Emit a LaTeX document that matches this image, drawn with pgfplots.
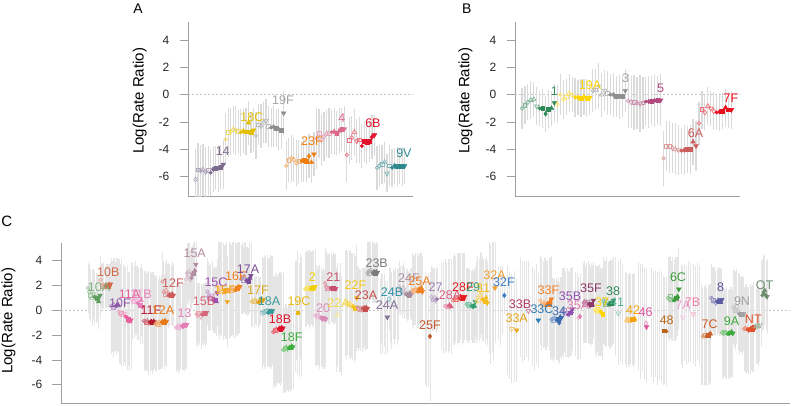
\documentclass[border=0pt]{standalone}
\usepackage{fontspec}
\setmainfont{Liberation Sans}
\usepackage{pgfplots}
\usepackage{pgfplotstable}
\pgfplotsset{compat=1.18}

\pgfdeclareplotmark{tdown}{%
  \pgfpathmoveto{\pgfqpoint{0pt}{-\pgfplotmarksize}}%
  \pgfpathlineto{\pgfqpoint{.866\pgfplotmarksize}{.5\pgfplotmarksize}}%
  \pgfpathlineto{\pgfqpoint{-.866\pgfplotmarksize}{.5\pgfplotmarksize}}%
  \pgfpathclose\pgfusepathqstroke}
\pgfdeclareplotmark{tdown*}{%
  \pgfpathmoveto{\pgfqpoint{0pt}{-\pgfplotmarksize}}%
  \pgfpathlineto{\pgfqpoint{.866\pgfplotmarksize}{.5\pgfplotmarksize}}%
  \pgfpathlineto{\pgfqpoint{-.866\pgfplotmarksize}{.5\pgfplotmarksize}}%
  \pgfpathclose\pgfusepathqfillstroke}

\definecolor{barc}{HTML}{DADADA}
\definecolor{barcC}{HTML}{E5E5E5}
% panel A
\definecolor{c14}{HTML}{7D6B8D}\definecolor{c18C}{HTML}{E3BF00}\definecolor{c19F}{HTML}{8E8E8E}
\definecolor{c23F}{HTML}{F07D0C}\definecolor{c4}{HTML}{DE6A8B}\definecolor{c6B}{HTML}{E3122B}
\definecolor{c9V}{HTML}{2F8A90}
% panel B
\definecolor{c1}{HTML}{2E8B57}\definecolor{c19A}{HTML}{FFD500}\definecolor{c3}{HTML}{8E8E8E}
\definecolor{c5}{HTML}{B04A7E}\definecolor{c6A}{HTML}{CC5B5B}\definecolor{c7F}{HTML}{E8101F}
% panel C
\definecolor{c10A}{HTML}{5E9E5E}\definecolor{c10B}{HTML}{D2694B}\definecolor{c10F}{HTML}{8E5AA8}
\definecolor{c11A}{HTML}{E8609A}\definecolor{c11B}{HTML}{E880B8}\definecolor{c11F}{HTML}{B5172D}
\definecolor{c12A}{HTML}{E87A1A}\definecolor{c12F}{HTML}{CD5C5C}\definecolor{c13}{HTML}{E47FB8}
\definecolor{c15A}{HTML}{B48CA0}\definecolor{c15B}{HTML}{D8667A}\definecolor{c15C}{HTML}{9E4FB0}
\definecolor{c15F}{HTML}{F5A623}\definecolor{c16F}{HTML}{F0801E}\definecolor{c17A}{HTML}{7D4E96}
\definecolor{c17F}{HTML}{D9A520}\definecolor{c18A}{HTML}{3A9A9A}\definecolor{c18B}{HTML}{E0142C}
\definecolor{c18F}{HTML}{3DAE3D}\definecolor{c19C}{HTML}{E8B810}\definecolor{c2}{HTML}{F2D000}
\definecolor{c20}{HTML}{D98CB8}\definecolor{c21}{HTML}{C8506E}\definecolor{c22A}{HTML}{F2D84A}
\definecolor{c22F}{HTML}{F5C518}\definecolor{c23A}{HTML}{C44E4E}\definecolor{c23B}{HTML}{7A7A7A}
\definecolor{c24A}{HTML}{806E96}\definecolor{c24B}{HTML}{3191A8}\definecolor{c24F}{HTML}{A88E9E}
\definecolor{c25A}{HTML}{F07F1F}\definecolor{c25F}{HTML}{C0562D}\definecolor{c27}{HTML}{9B7FB0}
\definecolor{c28A}{HTML}{D95F80}\definecolor{c28F}{HTML}{E41A1C}\definecolor{c29}{HTML}{2E9E6E}
\definecolor{c31}{HTML}{F5BC1A}\definecolor{c32A}{HTML}{F29E2E}\definecolor{c32F}{HTML}{3A7EC6}
\definecolor{c33A}{HTML}{E8A317}\definecolor{c33B}{HTML}{B03A5E}\definecolor{c33C}{HTML}{2E7DB8}
\definecolor{c33F}{HTML}{F57E1F}\definecolor{c34}{HTML}{3C6CB0}\definecolor{c35A}{HTML}{E07CB0}
\definecolor{c35B}{HTML}{9050B0}\definecolor{c35F}{HTML}{8C3A66}\definecolor{c37}{HTML}{FFD500}
\definecolor{c38}{HTML}{2E8B57}\definecolor{c41}{HTML}{4FAF8F}\definecolor{c42}{HTML}{F5A20A}
\definecolor{c46}{HTML}{E0559E}\definecolor{c48}{HTML}{B8651C}\definecolor{c6C}{HTML}{3A9A3A}
\definecolor{c7A}{HTML}{EE9CCB}\definecolor{c7B}{HTML}{F07CA8}\definecolor{c7C}{HTML}{C85F2A}
\definecolor{c8}{HTML}{5A5AA0}\definecolor{c9A}{HTML}{3BAA3B}\definecolor{c9N}{HTML}{A0A0A0}
\definecolor{cNT}{HTML}{E0532D}\definecolor{cOT}{HTML}{6E8E6E}

\pgfplotsset{
  panel/.style={scale only axis, axis x line*=bottom, axis y line*=left,
    xtick=\empty, ytick={-6,-4,-2,0,2,4}, tick align=outside, major tick length=8.5pt,
    ytick style={draw=gray!75, line width=0.8pt},
    axis line style={draw=gray!75, line width=0.9pt},
    yticklabel style={font=\fontsize{12}{12}\selectfont, text=black!85, inner sep=0pt, xshift=-10pt},
    /pgf/number format/assume math mode=true,
    clip mode=individual},
  grp/.style={only marks, scatter, scatter src=explicit symbolic, color=#1, mark=*, forget plot,
    scatter/classes={
      o={mark=o, mark size=1.7pt, draw=#1!60!white, fill=white, line width=0.7pt},
      d={mark=diamond, mark size=2.4pt, draw=#1!60!white, fill=white, line width=0.7pt},
      s={mark=square, mark size=1.9pt, draw=#1!60!white, fill=white, line width=0.7pt},
      t={mark=triangle, mark size=2.7pt, draw=#1!60!white, fill=white, line width=0.7pt},
      v={mark=tdown, mark size=2.7pt, draw=#1!60!white, fill=white, line width=0.7pt},
      O={mark=*, mark size=1.7pt, draw=#1, fill=#1, line width=0.4pt},
      D={mark=diamond*, mark size=2.4pt, draw=#1, fill=#1, line width=0.4pt},
      S={mark=square*, mark size=1.9pt, draw=#1, fill=#1, line width=0.4pt},
      T={mark=triangle*, mark size=2.7pt, draw=#1, fill=#1, line width=0.4pt},
      V={mark=tdown*, mark size=2.7pt, draw=#1, fill=#1, line width=0.4pt},
      n={mark=*, mark size=0.1pt, opacity=0}}},
  bars/.style 2 args={draw=none, no markers, forget plot,
    error bars/y dir=both, error bars/y explicit, error bars/error mark=none,
    error bars/error bar style={draw=#1, line width=#2, solid}},
}
\newcommand\lbl{\fontsize{12.5}{13}\selectfont}
\newcommand\lb[4]{\node[font=\lbl, text=#1, inner sep=0pt] at (axis cs:#2,#3) {#4};}
\newcommand\gA[2]{\addplot[grp=#2, restrict expr to domain={\thisrow{g}}{#1}] table[x expr=12*\thisrow{g}+\thisrow{k}, y=y, meta=c] {\tabA};}
\newcommand\gB[2]{\addplot[grp=#2, restrict expr to domain={\thisrow{g}}{#1}] table[x expr=12*\thisrow{g}+\thisrow{k}, y=y, meta=c] {\tabB};}
\newcommand\gC[2]{\addplot[grp=#2, restrict expr to domain={\thisrow{g}}{#1}] table[x=x, y=y, meta=c] {\tabC};}

\begin{document}
\pgfplotstableread{
g k y e c
0 0 -6.2 2.2 d
0 1 -5.5 2.0 s
0 2 -5.55 1.9 d
0 3 -5.5 1.9 t
0 4 -5.65 1.8 v
0 5 -5.55 1.8 s
0 6 -5.7 1.7 O
0 7 -5.45 1.7 D
0 8 -5.35 1.6 S
0 9 -5.4 1.7 T
0 10 -5.3 1.6 S
0 11 -5.1 1.8 V
1 0 -3.27 1.9 o
1 1 -2.75 1.8 s
1 2 -2.7 1.7 d
1 3 -2.55 1.7 t
1 4 -2.6 1.8 v
1 5 -2.7 1.6 s
1 6 -2.75 1.7 O
1 7 -2.65 1.6 D
1 8 -2.7 1.7 S
1 9 -2.05 1.6 T
1 10 -2.75 1.5 S
1 11 -2.6 1.6 V
2 0 -3.0 1.7 o
2 1 -2.2 1.5 s
2 2 -2.3 1.6 d
2 3 -2.05 1.5 t
2 4 -1.9 1.6 v
2 5 -2.3 1.5 s
2 6 -2.4 1.4 O
2 7 -2.35 1.5 D
2 8 -2.45 1.4 S
2 9 -2.55 1.5 T
2 10 -2.6 1.4 S
2 11 -1.35 1.6 V
3 0 -5.2 1.8 o
3 1 -4.8 1.6 s
3 2 -4.65 1.7 d
3 3 -4.75 1.6 t
3 4 -5.0 1.7 v
3 5 -4.9 1.6 s
3 6 -4.85 1.5 O
3 7 -4.8 1.6 S
3 8 -4.85 1.5 S
3 9 -4.5 1.6 D
3 10 -4.95 1.5 T
3 11 -4.35 1.6 V
4 0 -3.2 2.2 o
4 1 -2.85 1.8 s
4 2 -3.3 1.9 d
4 3 -3.05 1.8 v
4 4 -2.85 1.7 t
4 5 -2.8 1.8 s
4 6 -2.75 1.6 O
4 7 -2.7 1.7 D
4 8 -2.8 1.6 S
4 9 -2.65 1.7 T
4 10 -2.55 1.6 S
4 11 -2.5 1.7 V
5 0 -4.4 2.0 o
5 1 -3.35 1.7 s
5 2 -3.15 1.6 d
5 3 -2.75 1.7 t
5 4 -3.4 1.6 v
5 5 -3.3 1.7 s
5 6 -3.75 1.6 O
5 7 -3.4 1.5 S
5 8 -3.45 1.6 S
5 9 -3.4 1.5 S
5 10 -3.1 1.6 D
5 11 -2.95 1.5 V
6 0 -5.35 1.6 o
6 1 -5.2 1.5 d
6 2 -5.1 1.4 s
6 3 -4.95 1.5 t
6 4 -5.75 1.4 v
6 5 -5.2 1.5 s
6 6 -5.35 1.4 O
6 7 -5.2 1.3 D
6 8 -5.25 1.4 S
6 9 -5.2 1.3 S
6 10 -5.25 1.4 S
6 11 -5.2 1.3 V
}\tabA
\pgfplotstableread{
g k y e c
0 0 -1.0 1.5 o
0 1 -0.75 1.4 s
0 2 -0.55 1.3 d
0 3 -0.4 1.4 t
0 4 -0.35 1.3 t
0 5 -0.85 1.4 v
0 6 -1.0 1.3 O
0 7 -1.0 1.4 S
0 8 -1.4 1.3 D
0 9 -1.05 1.4 S
0 10 -1.0 1.3 T
0 11 -0.6 1.4 V
1 0 -0.7 1.4 d
1 1 0.0 1.5 o
1 2 -0.35 1.4 d
1 3 -0.15 1.3 s
1 4 0.1 1.4 t
1 5 0.0 1.3 v
1 6 -0.2 1.4 O
1 7 -0.2 1.3 D
1 8 -0.25 1.4 S
1 9 -0.15 1.3 T
1 10 -0.25 1.4 S
1 11 -0.2 1.3 V
2 0 0.3 1.6 d
2 1 0.35 1.5 s
2 2 0.65 1.7 o
2 3 0.0 1.6 t
2 4 0.3 1.5 v
2 5 0.1 1.6 s
2 6 0.0 1.5 O
2 7 0.0 1.6 D
2 8 -0.1 1.5 S
2 9 -0.15 1.6 T
2 10 -0.1 1.5 S
2 11 0.3 1.6 V
3 0 -0.45 2.0 o
3 1 -0.55 1.9 d
3 2 -0.55 2.0 s
3 3 -0.6 1.9 t
3 4 -0.65 2.1 v
3 5 -0.6 1.9 s
3 6 -0.5 1.8 O
3 7 -0.5 1.9 D
3 8 -0.45 1.8 S
3 9 -0.45 1.9 T
3 10 -0.4 1.8 S
3 11 -0.4 1.9 V
4 0 -4.65 2.0 o
4 1 -3.75 1.8 s
4 2 -3.8 1.9 s
4 3 -3.9 1.8 d
4 4 -4.0 1.9 t
4 5 -4.05 1.8 v
4 6 -4.1 1.7 O
4 7 -4.05 1.8 D
4 8 -4.0 1.7 S
4 9 -4.0 1.8 S
4 10 -3.45 1.7 T
4 11 -3.75 1.8 V
5 0 -2.1 1.6 o
5 1 -1.1 1.4 s
5 2 -1.3 1.3 d
5 3 -0.85 1.4 t
5 4 -1.0 1.3 v
5 5 -1.2 1.4 d
5 6 -1.3 1.3 O
5 7 -1.25 1.4 D
5 8 -1.2 1.3 S
5 9 -0.95 1.4 T
5 10 -1.1 1.3 S
5 11 -1.1 1.4 V
}\tabB
\pgfplotstableread{
g x y e c
0 88 1.8 2.0 o
0 89.3 1.5 2.2 d
0 90.6 1.2 2.1 s
0 92 1.0 2.3 t
0 93.3 1.3 2.0 v
0 94.6 1.1 2.1 O
0 96 1.0 2.0 D
0 97.3 1.0 1.9 S
0 98.6 0.7 2.2 T
0 100 1.2 1.9 V
1 100.5 2.45 1.9 o
1 101.6 2.0 1.8 d
1 102.7 1.9 1.8 s
1 103.8 2.0 1.9 t
1 104.9 1.9 1.7 v
1 106 1.95 1.8 O
1 107.1 2.0 1.7 D
1 108.2 1.9 1.8 S
1 109.3 2.05 1.7 T
1 110.4 2.1 1.8 V
2 111 0.35 3.9 o
2 112 0.3 3.7 d
2 113 0.25 4.0 s
2 114 0.4 3.8 t
2 115 0.3 3.6 v
2 116 0.35 3.9 O
2 117 0.4 3.7 D
2 118 0.45 3.8 T
3 119 -0.1 4.2 o
3 120.3 -0.3 4.0 d
3 121.6 -0.2 4.3 s
3 123 -0.4 4.1 t
3 124.3 -0.3 3.9 v
3 125.6 -0.5 4.0 O
3 127 -0.6 4.2 D
3 128.3 -0.7 3.8 S
3 129.6 -0.9 4.0 T
3 131 -0.8 3.9 V
4 131.5 0.9 3.0 o
4 132.7 0.7 3.1 d
4 133.9 0.7 2.9 s
4 135.1 1.0 3.0 t
4 136.3 0.8 2.8 v
4 137.5 0.6 3.0 O
4 138.7 0.5 2.9 D
4 139.9 0.4 3.1 S
4 141.1 0.8 2.9 T
4 142.3 0.3 3.0 V
5 144 -0.85 4.0 o
5 145.2 -0.9 4.1 d
5 146.4 -0.95 3.9 s
5 147.6 -0.9 4.0 t
5 148.8 -1.0 4.2 v
5 150 -0.95 4.0 O
5 151.2 -0.9 3.9 D
5 152.4 -1.0 4.1 S
5 153.6 -0.9 4.0 T
5 154.8 -0.95 3.8 V
6 155.5 -1.1 3.8 o
6 156.7 -1.05 3.9 d
6 157.9 -1.15 3.7 s
6 159.1 -1.0 3.8 t
6 160.3 -1.1 3.6 v
6 161.5 -0.95 3.8 O
6 162.7 -0.9 3.7 D
6 163.9 -0.95 3.9 S
6 165.1 -0.85 3.6 T
6 166.3 -0.9 3.7 V
7 162.5 2.3 2.4 o
7 163.8 1.5 2.5 d
7 165 1.3 2.6 s
7 166.2 1.6 2.5 t
7 167.4 1.3 2.4 v
7 168.6 1.2 2.6 O
7 169.8 1.25 2.5 D
7 171 1.2 2.4 S
7 172.2 1.3 2.6 T
7 173.4 1.2 2.5 V
8 176 -1.4 3.6 o
8 177.2 -1.35 3.5 d
8 178.4 -1.4 3.7 s
8 179.6 -1.3 3.6 t
8 180.8 -1.35 3.4 v
8 182 -1.25 3.6 O
8 183.2 -1.3 3.5 D
8 184.4 -1.2 3.7 S
8 185.6 -1.2 3.5 T
8 186.8 -1.15 3.6 V
9 186 2.5 2.5 o
9 187.1 3.0 2.4 d
9 188.2 2.9 2.5 s
9 189.3 3.1 2.3 t
9 190.4 2.5 2.4 v
9 191.5 2.6 2.5 O
9 192.6 2.9 2.3 D
9 193.7 3.0 2.4 S
9 194.8 3.2 2.3 T
9 195.9 3.7 2.2 V
10 196.5 -0.3 2.5 o
10 197.6 -0.4 2.6 d
10 198.7 -0.2 2.4 s
10 199.8 -0.3 2.5 t
10 200.9 -0.5 2.6 v
10 202 -0.35 2.4 O
10 203.1 -0.3 2.5 D
10 204.2 -0.25 2.4 S
10 205.3 -0.3 2.6 T
10 206.4 -0.2 2.5 V
11 207.5 1.5 2.7 o
11 208.6 1.1 2.8 d
11 209.7 1.0 2.6 s
11 210.8 1.0 2.7 t
11 211.9 1.2 2.8 v
11 213 0.8 2.6 O
11 214.1 0.9 2.7 D
11 215.2 0.8 2.6 S
11 216.3 0.7 2.8 T
11 217.4 1.4 2.7 V
12 218.5 1.7 3.8 o
12 219.6 1.6 3.9 d
12 220.7 1.8 3.7 s
12 221.8 1.7 3.8 t
12 222.9 1.5 3.9 v
12 224 1.6 3.7 O
12 225.1 1.5 3.8 D
12 226.2 1.6 3.9 S
12 227.3 0.7 3.7 V
13 229 1.6 3.8 o
13 230.2 1.7 3.9 d
13 231.4 1.6 3.7 s
13 232.6 1.8 3.8 t
13 233.8 1.7 3.9 v
13 235 1.6 3.8 O
13 236.2 1.7 3.7 D
13 237.4 1.8 3.9 S
13 238.6 1.9 3.8 T
13 239.8 1.9 3.7 V
14 241 2.5 2.8 o
14 242.1 2.6 2.9 d
14 243.2 2.4 2.7 s
14 244.3 2.7 2.8 t
14 245.4 2.5 2.9 v
14 246.5 2.4 2.7 O
14 247.6 2.3 2.8 D
14 248.7 2.35 2.7 S
14 249.8 2.6 2.8 T
14 250.9 2.8 2.9 V
15 251.5 0.7 2.1 o
15 252.8 0.75 2.0 d
15 254.1 0.7 2.1 s
15 255.4 0.8 1.9 t
15 256.7 0.75 2.0 v
15 258 0.65 2.1 O
15 259.3 0.7 2.0 D
15 260.6 0.8 1.9 S
15 261.9 0.85 2.0 T
15 263.2 0.85 2.1 V
16 262.5 -0.2 4.5 v
16 263.6 -0.1 4.3 o
16 264.7 -0.15 4.6 d
16 265.8 -0.1 4.4 s
16 266.9 -0.05 4.5 t
16 268 -0.2 4.3 O
16 269.1 -0.15 4.4 D
16 270.2 -0.1 4.6 S
16 271.3 -0.1 4.5 T
16 272.4 -0.05 4.4 V
17 273 -1.75 4.5 o
17 274.1 -1.7 4.4 d
17 275.2 -1.6 4.6 s
17 276.3 -1.55 4.5 t
17 277.4 -1.6 4.3 v
17 278.5 -1.5 4.4 O
17 279.6 -1.45 4.5 D
17 280.7 -1.5 4.6 S
17 281.8 -1.4 4.4 T
17 282.9 -1.45 4.5 V
18 283 -3.2 3.5 o
18 284.1 -3.15 3.4 d
18 285.2 -3.1 3.6 s
18 286.3 -3.0 3.5 t
18 287.4 -3.1 3.3 v
18 288.5 -3.05 3.5 O
18 289.6 -3.0 3.4 D
18 290.7 -2.95 3.6 S
18 291.8 -2.9 3.5 T
18 292.9 -2.95 3.4 V
19 295 -0.5 4.5 n
19 296.3 0.0 4.0 n
19 297.6 -0.2 5.0 S
19 299 -0.8 4.6 n
19 300.3 0.3 4.2 n
19 301.6 -0.5 4.8 n
20 305 1.7 3.0 o
20 306.1 1.75 3.1 d
20 307.2 1.8 2.9 s
20 308.3 1.85 3.0 t
20 309.4 1.7 3.2 v
20 310.5 1.75 3.0 O
20 311.6 1.8 2.9 D
20 312.7 1.75 3.1 S
20 313.8 1.8 3.0 T
20 314.9 1.9 3.0 V
21 315 -0.4 4.0 o
21 316.2 -0.45 4.1 d
21 317.4 -0.5 3.9 s
21 318.6 -0.4 4.0 t
21 319.8 -0.55 4.2 v
21 321 -0.6 4.0 O
21 322.2 -0.7 3.9 D
21 323.4 -0.65 4.1 S
21 324.6 -0.75 4.0 T
21 325.8 -0.7 3.9 V
22 325 2.2 2.8 o
22 326.2 1.9 2.9 d
22 327.4 1.8 2.7 s
22 328.6 1.7 2.8 t
22 329.8 1.75 2.9 v
22 331 1.8 2.8 O
22 332.2 1.75 2.7 D
22 333.4 1.8 2.9 S
22 334.6 1.7 2.8 T
22 335.8 1.75 2.8 V
23 336.5 -0.8 4.2 n
23 337.7 -0.4 4.2 t
23 339 -1.0 4.0 n
23 340.3 -0.6 4.4 n
23 341.6 -1.2 4.0 n
24 345 0.6 4.3 n
24 346.3 0.5 4.4 o
24 347.6 0.6 4.2 d
24 348.9 0.45 4.3 s
24 350.2 0.5 4.4 t
24 351.5 0.4 4.2 v
24 352.8 0.3 4.3 O
24 354.1 0.25 4.4 D
24 355.4 0.2 4.2 S
24 356.7 1.0 4.3 V
25 357.5 0.25 3.3 o
25 358.6 0.1 3.4 d
25 359.7 0.15 3.2 s
25 360.8 0.0 3.3 t
25 361.9 0.05 3.4 v
25 363 0.15 3.3 O
25 364.1 0.2 3.2 D
25 365.2 0.1 3.4 S
25 366.3 0.2 3.3 T
25 367.4 0.15 3.3 V
26 367.5 3.0 2.5 o
26 368.6 3.1 2.4 d
26 369.7 3.0 2.5 s
26 370.8 3.2 2.4 t
26 371.9 3.1 2.5 v
26 373 3.0 2.4 O
26 374.1 3.1 2.5 D
26 375.2 2.95 2.4 S
26 376.3 3.1 2.5 T
26 377.4 3.05 2.4 V
27 380 -0.5 3.0 n
27 381.3 0.2 2.8 n
27 382.6 -0.3 3.2 n
27 383.9 0.0 2.9 n
27 385.2 -0.6 3.0 n
27 387.3 -0.56 2.9 V
28 389 0.9 2.5 d
28 390.3 0.4 3.0 n
28 391.6 0.0 3.1 n
28 393 0.5 2.8 n
28 394.3 0.2 3.0 n
28 395.6 0.6 2.9 n
28 397 0.3 3.0 n
28 398.3 0.5 2.9 n
29 399.5 1.9 2.1 o
29 400.8 1.6 2.0 d
29 402.1 1.5 2.1 s
29 403.4 1.8 2.0 t
29 404.7 1.4 2.1 v
29 406 1.3 2.0 O
29 407.3 1.25 2.1 D
29 408.6 1.2 2.0 S
29 409.9 1.4 2.0 T
29 411.2 1.3 2.1 V
30 412.5 1.6 2.9 o
30 413.6 1.5 3.0 d
30 414.7 1.6 2.8 s
30 415.8 1.7 2.9 t
30 416.9 1.6 3.0 v
30 418 1.5 2.9 O
30 419.1 1.7 2.8 D
30 420.2 1.6 3.0 S
30 421.3 1.8 2.9 T
30 422.4 1.5 2.9 V
31 425 -1.5 4.5 n
31 426.5 -2.0 4.2 n
31 428 -1.6 4.6 n
31 430 -2.1 5.2 D
32 431.5 1.1 2.5 o
32 432.6 0.9 2.6 d
32 433.7 0.85 2.5 s
32 434.8 1.0 2.4 t
32 435.9 0.8 2.6 v
32 437 0.9 2.5 O
33 441 0.3 3.5 n
33 443 0.2 3.7 n
33 445 0.35 3.8 o
33 446.5 0.3 3.6 d
33 448 0.35 3.8 s
33 449.5 0.4 3.7 T
33 451 0.3 3.8 T
34 453 0.8 3.6 o
34 454.3 0.9 3.7 d
34 455.6 0.85 3.5 s
34 456.9 1.0 3.6 t
34 458.2 0.9 3.7 v
34 459.5 1.0 3.6 O
34 460.8 1.1 3.5 D
34 462.1 0.95 3.7 S
34 463.4 1.0 3.6 T
34 464.7 1.1 3.5 V
35 466.5 0.5 2.9 o
35 467.6 0.4 3.0 d
35 468.7 0.45 2.9 s
35 469.8 0.35 3.0 v
35 470.9 0.4 2.8 t
35 472 0.35 3.0 O
35 473.1 0.3 2.9 D
35 474.2 0.35 3.0 T
35 475.3 0.7 2.9 V
36 476.5 0.7 3.3 o
36 477.7 1.0 3.4 d
36 478.9 0.8 3.3 s
36 480.1 1.2 3.4 t
36 481.3 1.4 3.3 v
36 482.5 0.9 3.4 O
36 483.7 0.8 3.3 D
36 484.9 0.7 3.4 S
36 486.1 1.0 3.3 T
36 487.3 0.6 3.4 V
37 489 1.0 4.5 n
37 490.5 0.5 4.8 n
37 492 1.2 4.6 n
37 493.5 0.8 4.9 n
37 495 1.8 4.4 V
38 498 0.6 3.0 n
38 500 0.4 3.2 n
38 502 0.8 2.8 n
38 504.3 1.2 1.5 D
39 507 -0.8 4.4 n
39 509 -1.2 4.3 n
39 511.7 -1.5 4.4 v
39 514 -1.3 4.5 n
39 516.7 -1.6 4.2 V
40 520 0.2 4.0 n
40 522 -0.1 4.1 n
40 524 0.0 4.0 n
40 526 0.1 3.9 n
40 528.5 -0.05 4.0 v
41 532 -0.5 4.0 n
41 534 -0.8 4.1 n
41 536 -0.3 4.0 n
41 538.3 -0.8 3.8 V
42 540.5 0.8 3.6 o
42 541.7 0.5 3.7 d
42 542.9 0.45 3.5 s
42 544.1 0.6 3.6 t
42 545.3 0.5 3.7 v
42 546.5 0.4 3.6 O
42 547.7 0.55 3.5 D
42 548.9 0.5 3.7 S
42 550.1 0.7 3.6 T
42 551.3 0.9 3.5 V
43 550 -0.7 3.3 n
43 551.5 -0.75 3.2 o
43 552.6 -0.7 3.3 d
43 553.7 -0.8 3.4 s
43 554.8 -0.65 3.2 t
43 555.9 -0.7 3.3 v
43 557 -0.8 3.2 O
43 558.1 -0.75 3.4 S
43 559.2 -1.0 3.3 D
43 560.3 -0.55 3.2 T
43 561.4 -0.6 3.3 V
44 575 -0.3 3.4 n
44 577 -0.5 3.5 n
44 578.5 -0.6 3.3 o
44 580 -0.5 3.4 D
45 562.5 -0.1 3.5 o
45 563.6 -0.2 3.6 d
45 564.7 0.0 3.4 s
45 565.8 -0.3 3.5 t
45 566.9 -0.2 3.6 v
45 568 -0.35 3.5 O
45 569.1 -0.3 3.4 D
45 570.2 -0.2 3.6 S
45 571.3 -0.1 3.5 T
45 572.4 0.1 3.4 V
46 583.5 0.6 3.2 o
46 584.6 0.7 3.3 d
46 585.7 0.5 3.1 s
46 586.8 0.6 3.2 t
46 587.9 0.7 3.3 v
46 589 0.5 3.2 O
46 590.1 0.4 3.1 D
46 591.2 0.5 3.3 S
46 592.3 0.45 3.2 T
46 593.4 0.8 3.1 V
47 595 0.05 3.6 o
47 596.1 -0.1 3.7 d
47 597.2 0.1 3.5 s
47 598.3 -0.05 3.6 t
47 599.4 0.0 3.7 v
47 600.5 -0.1 3.6 O
47 601.6 -0.2 3.5 D
47 602.7 -0.3 3.7 S
48 603.5 0.8 3.5 o
48 604.6 0.6 3.4 d
48 605.7 0.5 3.5 s
48 606.8 0.7 3.6 t
48 607.9 0.5 3.4 v
48 609 0.45 3.5 O
48 610.1 0.5 3.6 D
48 611.2 0.55 3.4 S
48 612.3 0.6 3.5 T
48 613.4 0.8 3.5 V
49 615.5 0.3 4.0 n
49 618.3 -0.25 4.2 v
49 620.5 0.0 4.1 n
49 622.5 -0.3 4.0 n
50 625 -0.6 3.7 n
50 626.7 -0.8 3.8 t
50 628 -0.75 3.7 t
50 629.3 -0.8 3.8 s
50 630.6 -0.7 3.6 n
50 632 -0.75 3.7 S
50 633.3 -0.8 3.8 T
50 634.6 -0.7 3.6 T
51 638 -0.5 4.4 n
51 640 -0.9 4.6 n
51 642 -0.6 4.3 n
51 644 -1.0 4.5 n
51 646 -1.05 4.5 d
51 646.5 -1.35 4.4 V
52 651 -1.0 4.4 n
52 653 -1.3 4.5 n
52 655 -1.1 4.3 n
52 657 -1.5 4.6 n
52 659 -1.2 4.4 n
52 661 -1.4 4.5 n
52 663.5 -1.6 4.4 n
52 664.5 -1.65 4.3 S
52 666.5 -1.7 4.4 O
53 668 1.0 3.3 o
53 669.2 0.9 3.4 d
53 670.4 1.1 3.3 s
53 671.6 0.8 3.2 t
53 672.8 0.9 3.4 v
53 674 0.8 3.3 O
53 675.2 0.9 3.4 D
53 676.4 1.0 3.3 S
53 677.6 1.1 3.2 T
53 678.8 1.7 3.3 V
54 681 -0.3 4.0 n
54 682.7 -0.56 4.1 v
54 684.5 -0.2 3.9 n
54 686.5 -0.4 4.0 n
54 688.5 -0.1 4.1 n
55 690.5 -0.2 4.0 n
55 693.3 -0.3 4.0 v
55 695.5 -0.5 4.1 n
55 697.5 -0.1 3.9 n
55 699.5 -0.4 4.0 n
56 701.5 -2.0 4.0 n
56 702.7 -2.1 3.9 o
56 704 -2.05 4.0 d
56 705.3 -2.0 4.1 s
56 706.6 -2.1 3.9 O
56 707.9 -2.0 4.0 S
56 709.2 -1.95 4.1 D
56 710.5 -1.9 4.0 T
57 711 1.0 2.7 o
57 712.2 0.9 2.6 d
57 713.4 0.8 2.7 s
57 714.6 0.7 2.8 t
57 715.8 0.6 2.6 v
57 717 0.7 2.7 O
57 718.2 0.8 2.6 D
57 719.4 0.7 2.8 S
57 720.6 0.65 2.7 T
57 721.8 0.85 2.6 V
58 722 -1.8 3.6 o
58 723.2 -1.85 3.7 d
58 724.4 -1.8 3.5 s
58 725.6 -1.85 3.6 t
58 726.8 -1.8 3.7 v
58 728 -1.9 3.6 O
58 729.2 -1.85 3.5 D
58 730.4 -1.8 3.7 S
58 731.6 -1.75 3.6 T
58 732.8 -1.85 3.5 V
59 733.5 0.3 3.0 o
59 734.6 0.1 3.1 d
59 735.7 0.0 3.2 s
59 736.8 0.3 3.0 t
59 737.9 -0.1 3.1 v
59 739 -0.3 3.2 O
59 740.1 -0.35 3.0 D
59 741.2 -0.3 3.1 S
59 742.3 -0.4 3.2 T
59 743.4 -0.3 3.0 V
60 744 -1.5 3.4 o
60 745.2 -1.45 3.5 d
60 746.4 -1.5 3.6 s
60 747.6 -1.55 3.4 O
60 748.8 -1.6 3.5 D
60 750 -1.5 3.6 O
60 751.2 -1.45 3.4 D
60 752.4 -1.5 3.5 S
60 753.6 -1.35 3.6 S
61 756 -1.3 3.0 t
61 757.2 -1.25 3.1 v
61 758.4 -1.3 3.2 t
61 759.6 -1.2 3.0 v
61 761 0.5 3.5 n
61 762.3 1.2 2.9 O
61 763.5 1.4 3.0 D
61 764.7 1.6 2.9 T
61 765.9 1.2 2.8 D
61 767 1.1 3.0 V
}\tabC
\begin{tikzpicture}
\path[use as bounding box] (0,0) rectangle (792pt,405pt);
% ---------------- Panel A
\begin{axis}[panel, at={(188pt,208.3pt)}, anchor=south west, width=225pt, height=175pt,
  xmin=-2.98, xmax=86.3, ymin=-7.46, ymax=5.34]
\addplot[forget plot, gray!45, line width=0.6pt, dash pattern=on 2pt off 2pt] coordinates {(-2.98,0) (86.3,0)};
\addplot[bars={barc}{1.2pt}] table[x expr=12*\thisrow{g}+\thisrow{k}, y=y, y error=e] {\tabA};
\gA{-0.5:0.5}{c14}
\gA{0.5:1.5}{c18C}
\gA{1.5:2.5}{c19F}
\gA{2.5:3.5}{c23F}
\gA{3.5:4.5}{c4}
\gA{4.5:5.5}{c6B}
\gA{5.5:6.5}{c9V}
\lb{c14}{10.8}{-4.12}{14}
\lb{c18C}{22.4}{-1.63}{18C}
\lb{c19F!80!white}{34.7}{-0.39}{19F}
\lb{c23F}{46.2}{-3.39}{23F}
\lb{c4}{58.1}{-1.73}{4}
\lb{c6B}{70.4}{-2.09}{6B}
\lb{c9V}{82.7}{-4.29}{9V}
\end{axis}
% ---------------- Panel B
\begin{axis}[panel, at={(515pt,208.3pt)}, anchor=south west, width=225pt, height=175pt,
  xmin=-2.37, xmax=73.9, ymin=-7.46, ymax=5.34]
\addplot[forget plot, gray!45, line width=0.6pt, dash pattern=on 2pt off 2pt] coordinates {(-2.37,0) (73.9,0)};
\addplot[bars={barc}{1.2pt}] table[x expr=12*\thisrow{g}+\thisrow{k}, y=y, y error=e] {\tabB};
\gB{-0.5:0.5}{c1}
\gB{0.5:1.5}{c19A}
\gB{1.5:2.5}{c3}
\gB{2.5:3.5}{c5}
\gB{3.5:4.5}{c6A}
\gB{4.5:5.5}{c7F}
\lb{c1}{10.95}{0.27}{1}
\lb{c19A}{23.05}{0.71}{19A}
\lb{c3!80!white}{35.15}{1.2}{3}
\lb{c5}{47.0}{0.47}{5}
\lb{c6A}{58.8}{-2.78}{6A}
\lb{c7F}{70.85}{-0.26}{7F}
\end{axis}
% ---------------- Panel C
\begin{axis}[panel, at={(61pt,1.7pt)}, anchor=south west, width=729pt, height=160.6pt,
  xmin=61, xmax=790, ymin=-7.5, ymax=5.45]
\addplot[forget plot, gray!45, line width=0.6pt, dash pattern=on 2pt off 2pt] coordinates {(61,0) (790,0)};
\addplot[bars={barcC}{0.75pt}] table[x=x, y=y, y error=e] {\tabC};
\gC{-0.5:0.5}{c10A}
\gC{0.5:1.5}{c10B}
\gC{1.5:2.5}{c10F}
\gC{2.5:3.5}{c11A}
\gC{3.5:4.5}{c11B}
\gC{4.5:5.5}{c11F}
\gC{5.5:6.5}{c12A}
\gC{6.5:7.5}{c12F}
\gC{7.5:8.5}{c13}
\gC{8.5:9.5}{c15A}
\gC{9.5:10.5}{c15B}
\gC{10.5:11.5}{c15C}
\gC{11.5:12.5}{c15F}
\gC{12.5:13.5}{c16F}
\gC{13.5:14.5}{c17A}
\gC{14.5:15.5}{c17F}
\gC{15.5:16.5}{c18A}
\gC{16.5:17.5}{c18B}
\gC{17.5:18.5}{c18F}
\gC{18.5:19.5}{c19C}
\gC{19.5:20.5}{c2}
\gC{20.5:21.5}{c20}
\gC{21.5:22.5}{c21}
\gC{22.5:23.5}{c22A}
\gC{23.5:24.5}{c22F}
\gC{24.5:25.5}{c23A}
\gC{25.5:26.5}{c23B}
\gC{26.5:27.5}{c24A}
\gC{27.5:28.5}{c24B}
\gC{28.5:29.5}{c24F}
\gC{29.5:30.5}{c25A}
\gC{30.5:31.5}{c25F}
\gC{31.5:32.5}{c27}
\gC{32.5:33.5}{c28A}
\gC{33.5:34.5}{c28F}
\gC{34.5:35.5}{c29}
\gC{35.5:36.5}{c31}
\gC{36.5:37.5}{c32A}
\gC{37.5:38.5}{c32F}
\gC{38.5:39.5}{c33A}
\gC{39.5:40.5}{c33B}
\gC{40.5:41.5}{c33C}
\gC{41.5:42.5}{c33F}
\gC{42.5:43.5}{c34}
\gC{43.5:44.5}{c35A}
\gC{44.5:45.5}{c35B}
\gC{45.5:46.5}{c35F}
\gC{46.5:47.5}{c37}
\gC{47.5:48.5}{c38}
\gC{48.5:49.5}{c41}
\gC{49.5:50.5}{c42}
\gC{50.5:51.5}{c46}
\gC{51.5:52.5}{c48}
\gC{52.5:53.5}{c6C}
\gC{53.5:54.5}{c7A}
\gC{54.5:55.5}{c7B}
\gC{55.5:56.5}{c7C}
\gC{56.5:57.5}{c8}
\gC{57.5:58.5}{c9A}
\gC{58.5:59.5}{c9N}
\gC{59.5:60.5}{cNT}
\gC{60.5:61.5}{cOT}
\lb{c10A!80!white}{99}{1.9}{10A}
\lb{c10B}{108.3}{3.11}{10B}
\lb{c10F}{120}{0.61}{10F}
\lb{c11A}{129.5}{1.29}{11A}
\lb{c11B}{141}{1.31}{11B}
\lb{c11F}{151}{0.02}{11F}
\lb{c12A}{163}{0.02}{12A}
\lb{c12F}{173}{2.23}{12F}
\lb{c13}{184.5}{-0.24}{13}
\lb{c15A}{194.7}{4.6}{15A}
\lb{c15B}{204}{0.75}{15B}
\lb{c15C}{216}{2.23}{15C}
\lb{c15F}{225}{1.64}{15F}
\lb{c16F}{236}{2.77}{16F}
\lb{c17A}{248}{3.31}{17A}
\lb{c17F}{258}{1.64}{17F}
\lb{c18A}{269}{0.77}{18A}
\lb{c18B}{280}{-0.73}{18B}
\lb{c18F}{291.7}{-2.18}{18F}
\lb{c19C}{299}{0.75}{19C}
\lb{c2}{312.3}{2.71}{2}
\lb{c20}{323}{0.16}{20}
\lb{c21}{333.3}{2.71}{21}
\lb{c22A}{338.5}{0.61}{22A}
\lb{c22F}{355.5}{2.04}{22F}
\lb{c23A}{366}{1.18}{23A}
\lb{c23B}{376.7}{3.79}{23B}
\lb{c24A}{387}{0.43}{24A}
\lb{c24B}{392}{1.45}{24B}
\lb{c24F}{409}{2.58}{24F}
\lb{c25A}{419.5}{2.31}{25A}
\lb{c25F}{430}{-1.19}{25F}
\lb{c27}{435.5}{1.85}{27}
\lb{c28A}{450}{1.18}{28A}
\lb{c28F}{463}{1.9}{28F}
\lb{c29}{473}{1.9}{29}
\lb{c31}{483}{1.82}{31}
\lb{c32A}{494.5}{2.85}{32A}
\lb{c32F}{504}{2.26}{32F}
\lb{c33A}{516.7}{-0.65}{33A}
\lb{c33B}{520}{0.51}{33B}
\lb{c33C}{542}{0.1}{33C}
\lb{c33F}{548.5}{1.64}{33F}
\lb{c34}{559}{-0.06}{34}
\lb{c35A}{578}{0.43}{35A}
\lb{c35B}{570}{1.1}{35B}
\lb{c35F}{591}{1.77}{35F}
\lb{c37}{602}{0.69}{37}
\lb{c38}{613}{1.5}{38}
\lb{c41}{617}{0.69}{41}
\lb{c42}{633}{0.02}{42}
\lb{c46}{645.5}{-0.19}{46}
\lb{c48}{666.7}{-0.78}{48}
\lb{c6C}{678}{2.63}{6C}
\lb{c7A}{683}{0.43}{7A}
\lb{c7B}{692.5}{0.69}{7B}
\lb{c7C}{709.7}{-1.1}{7C}
\lb{c8}{720.7}{1.85}{8}
\lb{c9A}{731.5}{-0.86}{9A}
\lb{c9N}{742}{0.77}{9N}
\lb{cNT}{753.3}{-0.7}{NT}
\lb{cOT}{764.5}{2.04}{OT}
\end{axis}
% ---------------- titles and axis labels
\node[font=\fontsize{14}{14}\selectfont] at (138pt,396pt) {A};
\node[font=\fontsize{14}{14}\selectfont] at (466.7pt,396pt) {B};
\node[font=\fontsize{15}{15}\selectfont] at (6.7pt,184pt) {C};
\node[font=\fontsize{15}{15}\selectfont, rotate=90] at (139.7pt,304.2pt) {Log(Rate Ratio)};
\node[font=\fontsize{15}{15}\selectfont, rotate=90] at (465.5pt,304.2pt) {Log(Rate Ratio)};
\node[font=\fontsize{15}{15}\selectfont, rotate=90] at (8.5pt,84.2pt) {Log(Rate Ratio)};
\end{tikzpicture}
\end{document}
